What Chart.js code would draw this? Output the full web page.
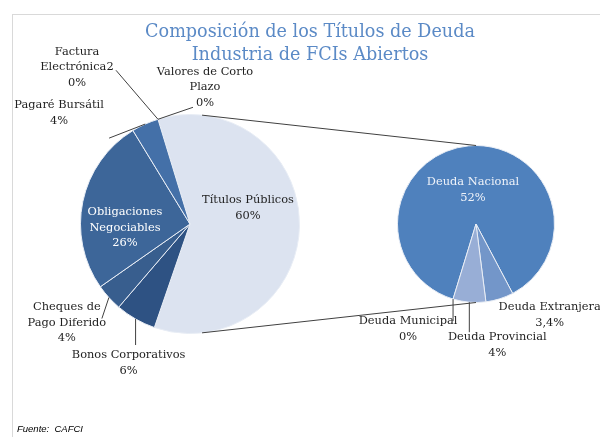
<!DOCTYPE html>
<html>
<head>
<meta charset="utf-8">
<script src="https://cdn.jsdelivr.net/npm/chart.js@4.4.1/dist/chart.umd.min.js"></script>
<style>
  body { margin: 0; background: #fff; }
  #wrap { position: relative; width: 600px; height: 437px; overflow: hidden; }
  #frame { position: absolute; left: 12px; top: 14px; width: 600px; height: 440px;
    border-top: 1px solid #d9d9d9; border-left: 1px solid #d9d9d9; }
  canvas { position: absolute; left: 0; top: 0; }
  #title { position: absolute; left: 110px; top: 20px; width: 400px; text-align: center;
    font-family: "DejaVu Serif", serif; font-size: 17.6px; line-height: 23px; color: #5b8ac6; }
  #source { position: absolute; left: 17px; top: 423px; font-family: "Liberation Sans", sans-serif;
    font-style: italic; font-size: 9.5px; color: #000; }
</style>
</head>
<body>
<div id="wrap">
  <div id="frame"></div>
  <canvas id="mainPie" width="600" height="437"></canvas>
  <canvas id="subPie" width="600" height="437"></canvas>
  <div id="title">Composición de los Títulos de Deuda<br>Industria de FCIs Abiertos</div>
  <div id="source">Fuente:&nbsp; CAFCI</div>
</div>
<script>
// main pie (Títulos Públicos is split into the second pie)
const mainLabels = ["Títulos Públicos", "Bonos Corporativos", "Cheques de Pago Diferido",
  "Obligaciones Negociables", "Pagaré Bursátil", "Factura Electrónica2", "Valores de Corto Plazo"];
const mainValues = [60, 6, 4, 26, 4, 0, 0];
const mainText = ["60%", "6%", "4%", "26%", "4%", "0%", "0%"];

// second pie
const subLabels = ["Deuda Nacional", "Deuda Extranjera", "Deuda Provincial", "Deuda Municipal"];
const subValues = [52, 3.4, 4, 0];
const subText = ["52%", "3,4%", "4%", "0%"];

const mainColors = ["#dce3f0", "#2e5283", "#385e8e", "#3d6699", "#4470a8", "#4470a8", "#4470a8"];
const subColors = ["#4f81bd", "#7396c9", "#98aed6", "#98aed6"];

const FONT = '11.4px "DejaVu Serif", serif';
const LINE_H = 15.5;

// where each label sits: inside = offset from pie centre, else offset from slice edge
const mainPlace = [
  { lines: ["Títulos Públicos"], inside: [58, -16], color: "#1f1f1f" },
  { lines: ["Bonos Corporativos"], at: [-7, 44], lead: [0, 26] },
  { lines: ["Cheques de", "Pago Diferido"], at: [-42, 25], lead: [-7, 21] },
  { lines: ["Obligaciones", "Negociables"], inside: [-65, 4], color: "#ffffff" },
  { lines: ["Pagaré Bursátil"], at: [-86, -11], lead: [-36, 14] },
  { lines: ["Factura", "Electrónica2"], at: [-81, -52], lead: [-42, -49] },
  { lines: ["Valores de Corto", "Plazo"], at: [47, -32], lead: [35, -12] },
];
const subPlace = [
  { lines: ["Deuda Nacional"], inside: [-3, -34], color: "#eef2f9" },
  { lines: ["Deuda Extranjera"], at: [50, 16] },
  { lines: ["Deuda Provincial"], at: [28, 43], lead: [0, 30] },
  { lines: ["Deuda Municipal"], at: [-45, 30], lead: [0, 22] },
];

const labelPlugin = {
  id: "sliceLabels",
  afterDatasetsDraw(chart, args, opts) {
    const ctx = chart.ctx;
    const arcs = chart.getDatasetMeta(0).data;
    ctx.save();
    ctx.font = FONT;
    ctx.textAlign = "center";
    ctx.textBaseline = "middle";
    arcs.forEach((arc, i) => {
      const p = opts.place[i];
      const lines = p.lines.concat([opts.text[i]]);
      let cx, cy;
      if (p.inside) {
        cx = arc.x + p.inside[0];
        cy = arc.y + p.inside[1];
      } else {
        const mid = (arc.startAngle + arc.endAngle) / 2;
        const ex = arc.x + Math.cos(mid) * arc.outerRadius;
        const ey = arc.y + Math.sin(mid) * arc.outerRadius;
        cx = ex + p.at[0];
        cy = ey + p.at[1];
        if (p.lead) {
          ctx.strokeStyle = "#404040";
          ctx.lineWidth = 1;
          ctx.beginPath();
          ctx.moveTo(ex, ey);
          ctx.lineTo(ex + p.lead[0], ey + p.lead[1]);
          ctx.stroke();
        }
      }
      ctx.fillStyle = p.color || "#1f1f1f";
      const top = cy - (lines.length - 1) * LINE_H / 2;
      lines.forEach((t, k) => ctx.fillText(t, cx, top + k * LINE_H));
    });
    ctx.restore();
  },
};

// lines from the main pie (tangent) to top and bottom of the second pie
const connectorPlugin = {
  id: "connectors",
  afterDraw(chart) {
    const a = mainChart.getDatasetMeta(0).data[0];
    const b = chart.getDatasetMeta(0).data[0];
    const ctx = chart.ctx;
    ctx.save();
    ctx.strokeStyle = "#404040";
    ctx.lineWidth = 1;
    [-1, 1].forEach((s) => {
      const px = b.x, py = b.y + s * b.outerRadius;
      const d = Math.hypot(px - a.x, py - a.y);
      const th = Math.atan2(py - a.y, px - a.x) + s * Math.acos(a.outerRadius / d);
      ctx.beginPath();
      ctx.moveTo(a.x + Math.cos(th) * a.outerRadius, a.y + Math.sin(th) * a.outerRadius);
      ctx.lineTo(px, py);
      ctx.stroke();
    });
    ctx.restore();
  },
};

const baseOptions = (pad, rotation, place, text) => ({
  responsive: false,
  animation: false,
  rotation: rotation,
  layout: { padding: pad },
  plugins: {
    legend: { display: false },
    tooltip: { enabled: false },
    sliceLabels: { place: place, text: text },
  },
});

const mainChart = new Chart(document.getElementById("mainPie"), {
  type: "pie",
  data: {
    labels: mainLabels,
    datasets: [{ data: mainValues, backgroundColor: mainColors, borderColor: "#e8edf5", borderWidth: 1 }],
  },
  options: baseOptions({ left: 80, right: 300, top: 114, bottom: 103 }, -17, mainPlace, mainText),
  plugins: [labelPlugin],
});

const subChart = new Chart(document.getElementById("subPie"), {
  type: "pie",
  data: {
    labels: subLabels,
    datasets: [{ data: subValues, backgroundColor: subColors, borderColor: "#e8edf5", borderWidth: 1 }],
  },
  options: baseOptions({ left: 397, right: 45, top: 145, bottom: 134 }, 197, subPlace, subText),
  plugins: [labelPlugin, connectorPlugin],
});
</script>
</body>
</html>
